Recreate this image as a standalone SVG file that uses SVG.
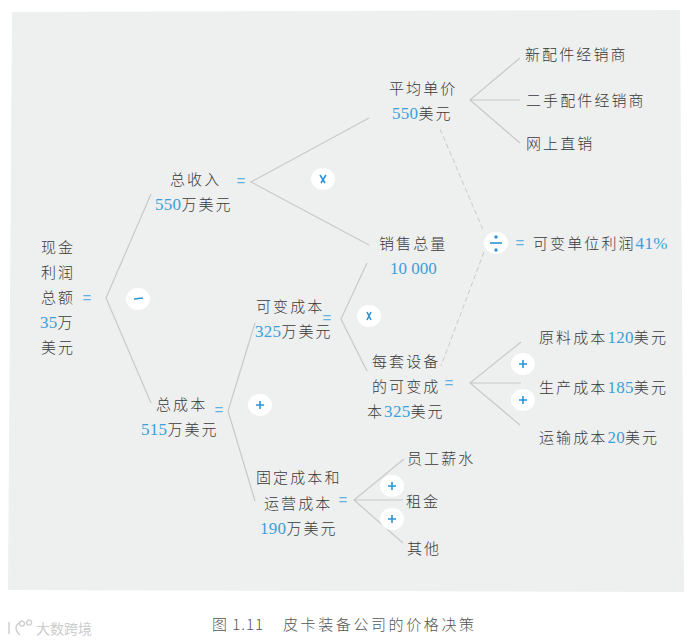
<svg xmlns="http://www.w3.org/2000/svg" width="693" height="643" viewBox="0 0 693 643">
<style>
text{font-family:"Noto Sans CJK SC","Noto Sans",sans-serif;font-size:15px;font-weight:300;fill:#3a3a3a;letter-spacing:2.1px}
.n{font-family:"Liberation Serif",serif;font-size:17px;font-weight:400;fill:#3a9fdc;letter-spacing:.3px}
.eq{font-family:"Liberation Sans",sans-serif;font-size:15px;font-weight:400;fill:#5fb2e4;letter-spacing:0;text-anchor:middle}
.l{stroke:#c9c9c9;stroke-width:1.2;fill:none}
.d{stroke:#c9c9c9;stroke-width:1;fill:none;stroke-dasharray:5 3}
.b{fill:#fff}
.s{stroke:#2a93d8;stroke-width:1.6;fill:none}
.k{fill:#2a93d8}
.cap{fill:#555}
</style>
<polygon points="12,12 680,10 684,592 8,590" fill="#eeefef"/>
<g id="connectors">
<path class="l" d="M151,194 L106,298 L151,403"/>
<path class="l" d="M369,118 L251,182 L369,245"/>
<path class="l" d="M255,323 L228,411 L255,501"/>
<path class="l" d="M367,263 L341,319 L367,371"/>
<path class="l" d="M520,58 L470,100 L520,143 M470,100 L520,100"/>
<path class="l" d="M521,342 L470,383 L520,425 M470,383 L521,383"/>
<path class="l" d="M404,459 L354,500 L403,543 M354,500 L403,500"/>
<path class="d" d="M440,129 L484,232"/>
<path class="d" d="M484,252 L441,366"/>
</g>
<g id="op-minus"><ellipse class="b" cx="138" cy="299" rx="12" ry="11"/><path class="s" d="M134,299 L143,298"/></g>
<g id="op-times1"><ellipse class="b" cx="323" cy="179" rx="12" ry="11"/><path class="s" d="M320,175 L325,183 M326,175 L321,183"/></g>
<g id="op-plus1"><ellipse class="b" cx="260" cy="405" rx="12" ry="11"/><path class="s" d="M256,405 L264,405 M260,401 L260,409"/></g>
<g id="op-times2"><ellipse class="b" cx="369" cy="316" rx="12" ry="11"/><path class="s" d="M367,312 L371,320 M371,312 L367,320"/></g>
<g id="op-plus2"><ellipse class="b" cx="523" cy="364" rx="12" ry="11"/><path class="s" d="M519,364 L527,364 M523,360 L523,368"/></g>
<g id="op-plus3"><ellipse class="b" cx="523" cy="400" rx="12" ry="11"/><path class="s" d="M519,400 L527,400 M523,396 L523,404"/></g>
<g id="op-plus4"><ellipse class="b" cx="392" cy="486" rx="12" ry="11"/><path class="s" d="M388,486 L396,486 M392,482 L392,490"/></g>
<g id="op-plus5"><ellipse class="b" cx="392" cy="519" rx="12" ry="11"/><path class="s" d="M388,519 L396,519 M392,515 L392,523"/></g>
<g id="op-div"><ellipse class="b" cx="496" cy="243" rx="12" ry="11"/><path class="s" d="M490,243 L502,243"/><circle class="k" cx="496" cy="237" r="1.7"/><circle class="k" cx="496" cy="250" r="1.7"/></g>
<g id="node-profit">
<text x="41" y="253">现金</text><text x="41" y="278">利润</text><text x="41" y="303">总额</text>
<text x="87" y="303" class="eq">=</text>
<text x="40" y="328"><tspan class="n">35</tspan>万</text><text x="41" y="353">美元</text>
</g>
<g id="node-revenue"><text x="170" y="185">总收入</text><text x="241" y="186" class="eq">=</text>
<text x="155" y="210"><tspan class="n">550</tspan>万美元</text></g>
<g id="node-cost"><text x="156" y="410">总成本</text><text x="219" y="415" class="eq">=</text>
<text x="141" y="435"><tspan class="n">515</tspan>万美元</text></g>
<g id="node-varcost"><text x="256" y="312">可变成本</text><text x="327" y="323" class="eq">=</text>
<text x="255" y="337"><tspan class="n">325</tspan>万美元</text></g>
<g id="node-fixcost"><text x="256" y="483">固定成本和</text><text x="264" y="509">运营成本</text><text x="343" y="505" class="eq">=</text>
<text x="260" y="534"><tspan class="n">190</tspan>万美元</text></g>
<g id="node-price"><text x="389" y="94">平均单价</text><text x="392" y="119"><tspan class="n">550</tspan>美元</text></g>
<g id="node-volume"><text x="379" y="249">销售总量</text><text x="390" y="274" class="n" style="letter-spacing:0">10 000</text></g>
<g id="node-unitcost"><text x="372" y="367">每套设备</text><text x="372" y="392">的可变成</text><text x="449" y="388" class="eq">=</text>
<text x="367" y="417">本<tspan class="n">325</tspan>美元</text></g>
<g id="node-margin"><text x="520" y="248" class="eq">=</text><text x="533" y="249">可变单位利润<tspan class="n">41%</tspan></text></g>
<g id="leaf-1"><text x="525" y="60">新配件经销商</text></g>
<g id="leaf-2"><text x="526" y="106">二手配件经销商</text></g>
<g id="leaf-3"><text x="526" y="149">网上直销</text></g>
<g id="leaf-4"><text x="539" y="343">原料成本<tspan class="n">120</tspan>美元</text></g>
<g id="leaf-5"><text x="539" y="393">生产成本<tspan class="n">185</tspan>美元</text></g>
<g id="leaf-6"><text x="539" y="443">运输成本<tspan class="n">20</tspan>美元</text></g>
<g id="leaf-7"><text x="407" y="464">员工薪水</text></g>
<g id="leaf-8"><text x="406" y="507">租金</text></g>
<g id="leaf-9"><text x="407" y="554">其他</text></g>
<text x="212" y="630" class="cap" style="letter-spacing:1px">图 1.11</text>
<text x="283" y="630" class="cap" style="letter-spacing:2.6px">皮卡装备公司的价格决策</text>
<path d="M9,622 L9,634 M20,622 Q12,628 20,635 M22,621 a2.5,2.5 0 1 0 .1,0 M29,620 a2.5,2.5 0 1 0 .1,0" fill="none" stroke="#cfcfcf" stroke-width="1.5"/>
<text x="36" y="634" style="fill:#ccc;font-size:14px;letter-spacing:0;font-weight:400">大数跨境</text>
</svg>
